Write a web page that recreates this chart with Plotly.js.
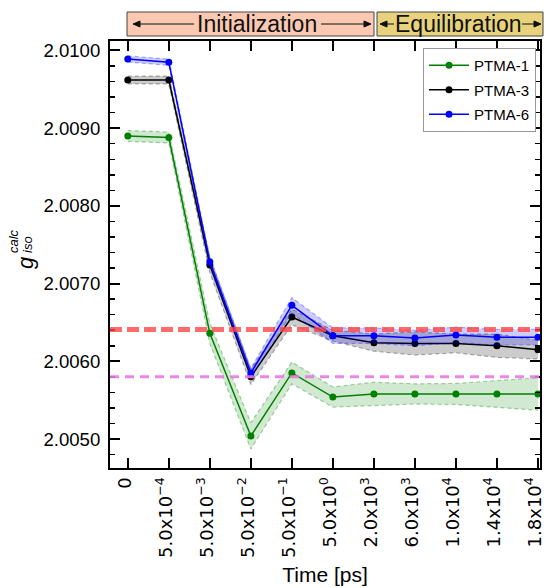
<!DOCTYPE html>
<html><head><meta charset="utf-8">
<script src="https://cdn.plot.ly/plotly-3.0.1.min.js"></script>
<style>html,body{margin:0;padding:0;background:#fff}</style>
</head><body>
<div id="chart" style="width:546px;height:588px"></div>
<script>
// ---- data ----
const xIndex = [0,1,2,3,4,5,6,7,8,9,10];
const tickLabels = ['0','5.0x10<sup>−4</sup>','5.0x10<sup>−3</sup>','5.0x10<sup>−2</sup>','5.0x10<sup>−1</sup>',
  '5.0x10<sup>0</sup>','2.0x10<sup>3</sup>','6.0x10<sup>3</sup>','1.0x10<sup>4</sup>','1.4x10<sup>4</sup>','1.8x10<sup>4</sup>'];
const ptma1    = [2.00890,2.00888,2.00636,2.00504,2.00585,2.00554,2.00558,2.00558,2.00558,2.00558,2.00558];
const ptma1Err = [0.00007,0.00007,0.00013,0.00017,0.00014,0.00013,0.00015,0.00013,0.000135,0.00017,0.00021];
const ptma3    = [2.00962,2.00962,2.00724,2.00580,2.00657,2.00633,2.00624,2.00623,2.00623,2.00620,2.00615];
const ptma3Err = [0.00005,0.00005,0.00010,0.00010,0.00010,0.00007,0.00011,0.00015,0.00012,0.00015,0.00012];
const ptma6    = [2.00989,2.00985,2.00728,2.00585,2.00672,2.00633,2.00633,2.00630,2.00634,2.00631,2.00631];
const ptma6Err = [0.00004,0.00004,0.00006,0.00006,0.00010,0.00010,0.00010,0.00010,0.00010,0.00010,0.00010];
const refRed = 2.00641;
const refViolet = 2.00580;

// ---- layout helpers ----
const W = 546, H = 588, M = {l:110, r:6, t:41, b:120};
const pw = W - M.l - M.r, ph = H - M.t - M.b;
const px = v => (v - M.l) / pw;
const py = v => (H - M.b - v) / ph;
const FONT = 'Liberation Sans, Arial, sans-serif';
const MATHFONT = 'DejaVu Sans, sans-serif';

function series(name, mean, err, color, fill, edge) {
  const lo = mean.map((m,i) => m - err[i]);
  const hi = mean.map((m,i) => m + err[i]);
  return [
    {x:xIndex, y:lo, mode:'lines', line:{color:edge, width:1.2, dash:'4px,3px'}, showlegend:false, hoverinfo:'skip', legendgroup:name},
    {x:xIndex, y:hi, mode:'lines', line:{color:edge, width:1.2, dash:'4px,3px'}, fill:'tonexty', fillcolor:fill, showlegend:false, hoverinfo:'skip', legendgroup:name},
    {x:xIndex, y:mean, name:name, legendgroup:name, mode:'lines+markers', line:{color:color, width:1.5}, marker:{color:color, size:7}}
  ];
}

const data = [
  ...series('PTMA-1', ptma1, ptma1Err, '#008000', 'rgba(0,128,0,0.18)', 'rgba(0,128,0,0.35)'),
  ...series('PTMA-3', ptma3, ptma3Err, '#000000', 'rgba(0,0,0,0.2)', 'rgba(0,0,0,0.3)'),
  ...series('PTMA-6', ptma6, ptma6Err, '#0000ff', 'rgba(0,0,255,0.2)', 'rgba(0,0,255,0.3)')
];

// banner arrows as shapes (line + small head)
function arrowShapes(xh, xt) {
  const yc = 24, dir = xt > xh ? 1 : -1, hl = 7, hw = 3;
  return [
    {type:'line', xref:'paper', yref:'paper', x0:px(xt), x1:px(xh + dir*2), y0:py(yc), y1:py(yc), line:{color:'#111', width:1}},
    {type:'path', xref:'paper', yref:'paper', fillcolor:'#111', line:{color:'#111', width:1},
     path:`M${px(xh)},${py(yc)} L${px(xh + dir*hl)},${py(yc - hw)} L${px(xh + dir*hl)},${py(yc + hw)} Z`}
  ];
}

const layout = {
  width:W, height:H, margin:M, paper_bgcolor:'#fff', plot_bgcolor:'#fff',
  font:{family:FONT, size:18, color:'#000'},
  showlegend:true,
  legend:{x:px(536), y:py(48), xanchor:'right', yanchor:'top', bgcolor:'#fff', bordercolor:'#999', borderwidth:1,
    font:{family:FONT, size:15, color:'#000'}, traceorder:'grouped', tracegroupgap:2, itemwidth:40},
  xaxis:{range:[-0.434, 10.05], tickmode:'array', tickvals:xIndex, ticktext:tickLabels, tickangle:-90,
    ticks:'inside', ticklen:10, tickwidth:2, tickcolor:'#000', showline:true, linewidth:2, linecolor:'#000',
    mirror:'ticks', showgrid:false, zeroline:false, tickfont:{family:MATHFONT, size:18},
    ticklabeloverflow:'allow', ticklabelshift:-3,
    title:{text:'Time [ps]', font:{family:FONT, size:21}, standoff:10}},
  yaxis:{range:[2.004627, 2.010122], dtick:0.001, tick0:2.005, tickformat:'.4f',
    ticks:'inside', ticklen:10, tickwidth:2, tickcolor:'#000', showline:true, linewidth:2, linecolor:'#000',
    mirror:'ticks', showgrid:false, zeroline:false, tickfont:{family:FONT, size:18.6}, ticklabelstandoff:4,
    minor:{dtick:0.0002, ticks:'inside', ticklen:5, tickwidth:1.5, tickcolor:'#000', showgrid:false}},
  shapes:[
    {type:'line', xref:'paper', x0:0, x1:1, yref:'y', y0:refRed, y1:refRed, layer:'above',
     line:{color:'rgba(255,70,70,0.8)', width:5, dash:'12px,5px'}},
    {type:'line', xref:'paper', x0:0, x1:1, yref:'y', y0:refViolet, y1:refViolet, layer:'above',
     line:{color:'rgba(235,120,225,0.9)', width:3, dash:'9px,6px'}},
    {type:'rect', xref:'paper', yref:'paper', x0:px(127), x1:px(374), y0:py(36), y1:py(12),
     fillcolor:'#fbc9b1', line:{color:'#444', width:1}},
    {type:'rect', xref:'paper', yref:'paper', x0:px(377), x1:px(543), y0:py(36), y1:py(12),
     fillcolor:'#e8d27c', line:{color:'#444', width:1}},
    ...arrowShapes(133, 194), ...arrowShapes(371, 321), ...arrowShapes(380, 394), ...arrowShapes(541, 522)
  ],
  annotations:[
    {x:px(256.5), y:py(24), xref:'paper', yref:'paper', text:'Initialization', showarrow:false,
     xanchor:'center', yanchor:'middle', font:{family:FONT, size:23, color:'#111'}},
    {x:px(458.5), y:py(24), xref:'paper', yref:'paper', text:'Equilibration', showarrow:false,
     xanchor:'center', yanchor:'middle', font:{family:FONT, size:23, color:'#111'}},
    {x:px(25), y:py(263), xref:'paper', yref:'paper', text:'<i>g</i>', showarrow:false, textangle:-90,
     xanchor:'center', yanchor:'middle', font:{family:FONT, size:22}},
    {x:px(14), y:py(241), xref:'paper', yref:'paper', text:'<i>calc</i>', showarrow:false, textangle:-90,
     xanchor:'center', yanchor:'middle', font:{family:FONT, size:13}},
    {x:px(27), y:py(245), xref:'paper', yref:'paper', text:'<i>iso</i>', showarrow:false, textangle:-90,
     xanchor:'center', yanchor:'middle', font:{family:FONT, size:13}}
  ]
};

Plotly.newPlot('chart', data, layout, {displayModeBar:false, staticPlot:true});
</script>
</body></html>
